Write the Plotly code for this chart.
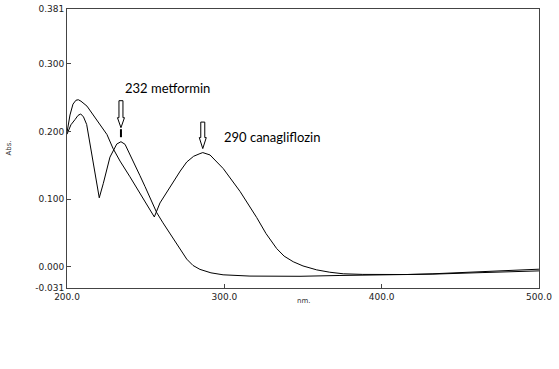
import plotly.graph_objects as go

# Canagliflozin spectrum (wavelength nm, absorbance)
wl_cana = [200.0, 201.9, 203.8, 205.7, 207.2, 208.9, 212.7, 219.1, 225.4, 229.2,
           233.7, 240.0, 246.4, 251.5, 255.5, 259.1, 263.0, 267.6, 272.0, 276.1,
           280.5, 284.5, 286.3, 290.9, 299.3, 310.0, 320.6, 326.5, 333.3, 338.0,
           343.8, 350.0, 358.7, 367.0, 375.6, 388.0, 401.0, 416.0, 432.6, 448.0,
           464.4, 482.0, 500.0]
abs_cana = [0.1986, 0.2246, 0.2406, 0.2464, 0.2471, 0.2449, 0.2377, 0.2174, 0.1957, 0.1754,
            0.1565, 0.1333, 0.1087, 0.0884, 0.0739, 0.0946, 0.1095, 0.1261, 0.1418, 0.1551,
            0.1636, 0.1675, 0.1690, 0.1655, 0.1454, 0.1116, 0.0729, 0.0493, 0.0271, 0.0160,
            0.0077, 0.0015, -0.0043, -0.0078, -0.0101, -0.0110, -0.0116, -0.0112, -0.0101, -0.0086,
            -0.0068, -0.0050, -0.0033]

# Metformin spectrum
wl_met = [200.0, 202.5, 205.1, 207.0, 208.7, 210.5, 212.5, 215.7, 218.9, 220.5,
          223.1, 227.3, 231.6, 234.3, 236.9, 240.0, 243.2, 246.4, 249.6, 252.8,
          257.0, 261.0, 265.5, 270.6, 276.1, 280.1, 284.5, 291.5, 299.2, 316.3,
          348.1, 373.5, 400.8, 432.6, 464.4, 500.0]
abs_met = [0.1961, 0.2101, 0.2178, 0.2239, 0.2261, 0.2217, 0.2106, 0.1671, 0.1188, 0.1022,
           0.1236, 0.1623, 0.1816, 0.1851, 0.1812, 0.1667, 0.1507, 0.1348, 0.1188, 0.1029,
           0.0804, 0.0652, 0.0493, 0.0304, 0.0116, 0.0022, -0.0036, -0.0087, -0.0116, -0.0135,
           -0.0138, -0.0126, -0.0120, -0.0106, -0.0083, -0.0058]

x_ticks = [200, 300, 400, 500]
x_tick_labels = ["200.0", "300.0", "400.0", "500.0"]
y_ticks = [-0.031, 0.0, 0.1, 0.2, 0.3, 0.381]
y_tick_labels = ["-0.031", "0.000", "0.100", "0.200", "0.300", "0.381"]

peak_labels = ["232 metformin", "290 canagliflozin"]
peak_wl = [234.3, 286.3]
peak_abs = [0.1851, 0.1690]

fig = go.Figure()
fig.add_trace(go.Scatter(x=wl_met, y=abs_met, mode="lines",
                         line=dict(color="black", width=1), showlegend=False))
fig.add_trace(go.Scatter(x=wl_cana, y=abs_cana, mode="lines",
                         line=dict(color="black", width=1), showlegend=False))

# hollow arrows (pixel paths anchored at peaks)
arrow_paths = [
    "M -2,41 L 2,41 L 2,24 L 3.5,24 L 0,14 L -3.5,24 L -2,24 Z",
    "M -2,30.5 L 2,30.5 L 2,15 L 3.5,15 L 0,4 L -3.5,15 L -2,15 Z",
]
for wl, ab, p in zip(peak_wl, peak_abs, arrow_paths):
    fig.add_shape(type="path", xref="x", yref="y", xsizemode="pixel", ysizemode="pixel",
                  xanchor=wl, yanchor=ab, path=p,
                  line=dict(color="black", width=1), fillcolor="white")
# dark tail under first arrow
fig.add_shape(type="line", xref="x", yref="y", xsizemode="pixel", ysizemode="pixel",
              xanchor=peak_wl[0], yanchor=peak_abs[0], x0=0, x1=0, y0=4.5, y1=12.5,
              line=dict(color="black", width=2))

text_offsets = [(2, 54), (19, 15.5)]
for lab, wl, ab, (dx, dy) in zip(peak_labels, peak_wl, peak_abs, text_offsets):
    fig.add_annotation(x=wl, y=ab, text=lab, showarrow=False, xanchor="left", yanchor="middle",
                       xshift=dx, yshift=dy, font=dict(family="Lato", size=13, color="black"))

fig.add_annotation(x=0, y=0.5, xref="paper", yref="paper", text="Abs.", showarrow=False,
                   textangle=-90, xanchor="center", yanchor="middle", xshift=-59,
                   font=dict(family="DejaVu Sans", size=7, color="#333"))
fig.add_annotation(x=0.5, y=0, xref="paper", yref="paper", text="nm.", showarrow=False,
                   xanchor="center", yanchor="middle", yshift=-13,
                   font=dict(family="DejaVu Sans", size=7, color="#333"))

axis_common = dict(showgrid=False, zeroline=False, showline=True, mirror=True,
                   linecolor="#444", linewidth=1, ticks="inside", ticklen=4,
                   tickcolor="#444", ticklabeloverflow="allow",
                   tickfont=dict(family="DejaVu Sans", size=9, color="#222"))
fig.update_xaxes(range=[200, 500.01], tickvals=x_ticks, ticktext=x_tick_labels, **axis_common)
fig.update_yaxes(range=[-0.0311, 0.3812], tickvals=y_ticks, ticktext=y_tick_labels, **axis_common)

fig.update_layout(width=559, height=369, margin=dict(l=67, r=20, t=4, b=81),
                  plot_bgcolor="white", paper_bgcolor="white")
fig.write_html("out.html", config={"displayModeBar": False},
               post_script="document.body.style.margin='0';")
